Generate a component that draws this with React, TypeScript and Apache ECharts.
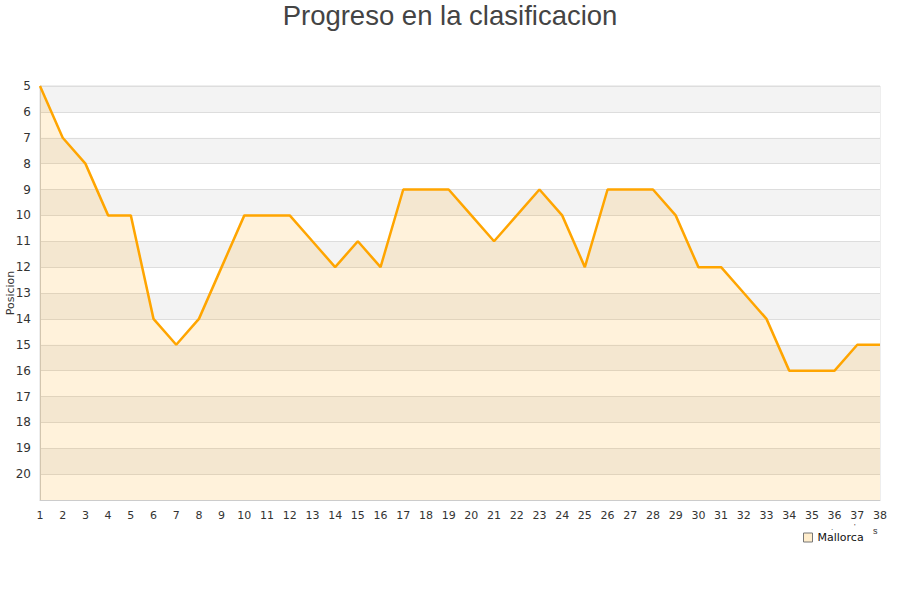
import React, { useEffect, useRef } from "react";
import * as echarts from "echarts";

const jornadas = Array.from({ length: 38 }, (_, i) => String(i + 1));
const posiciones = [5, 7, 8, 10, 10, 14, 15, 14, 12, 10, 10, 10, 11, 12, 11, 12, 9, 9, 9, 10, 11, 10, 9, 10, 12, 9, 9, 9, 10, 12, 12, 13, 14, 16, 16, 16, 15, 15];
const equipo = "Mallorca";
const titulo = "Progreso en la clasificacion";
const ejeY = "Posicion";

export default function App() {
  const ref = useRef<HTMLDivElement>(null);
  useEffect(() => {
    if (!ref.current) return;
    const chart = echarts.init(ref.current, null, { renderer: "svg" });
    chart.setOption({
      animation: false,
      textStyle: { fontFamily: "DejaVu Sans" },
      title: {
        text: titulo,
        left: "center",
        top: -4,
        textStyle: { fontFamily: "Liberation Sans", fontSize: 27.5, fontWeight: "normal", color: "#444" },
      },
      legend: {
        left: 798,
        top: 527,
        itemWidth: 9,
        itemHeight: 9,
        itemGap: 9,
        icon: "rect",
        textStyle: { fontSize: 11, color: "#111" },
        data: [{ name: equipo, itemStyle: { color: "rgba(255,165,0,0.2)", borderColor: "#777", borderWidth: 1 } }],
      },
      grid: {
        left: 40, right: 20, top: 86, bottom: 100,
        show: true, borderColor: "#ddd", borderWidth: 1,
        containLabel: false, outerBoundsMode: "none",
      },
      xAxis: {
        type: "category",
        data: jornadas,
        boundaryGap: false,
        axisLine: { show: true, lineStyle: { color: "#ccc" } },
        axisTick: { show: false },
        axisLabel: { color: "#333", fontSize: 11, margin: 10, interval: 0 },
        splitLine: { show: false },
      },
      yAxis: {
        type: "value",
        inverse: true,
        min: 5,
        max: 21,
        interval: 1,
        name: ejeY,
        nameLocation: "middle",
        nameGap: 24,
        nameMoveOverlap: false,
        nameRotate: 90,
        nameTextStyle: { fontSize: 11, color: "#333" },
        axisLine: { show: true, lineStyle: { color: "#ccc" } },
        axisTick: { show: false },
        axisLabel: {
          color: "#333",
          fontSize: 12,
          margin: 9,
          formatter: (v: number) => (v === 21 ? "" : String(v)),
        },
        splitLine: { show: true, lineStyle: { color: "#ddd" } },
        splitArea: { show: true, areaStyle: { color: ["#f3f3f3", "#ffffff"] } },
      },
      series: [
        {
          name: equipo,
          type: "line",
          data: posiciones,
          symbol: "none",
          lineStyle: { color: "#ffa500", width: 2.5 },
          itemStyle: { color: "#ffa500" },
          areaStyle: { color: "rgba(255,165,0,0.2)", origin: "end" },
        },
      ],
      graphic: [
        { type: "text", left: 873, top: 526, style: { text: "s", fontSize: 9, fill: "#333" } },
        { type: "text", left: 831, top: 523, style: { text: ".", fontSize: 8, fill: "#333" } },
        { type: "text", left: 854, top: 522, style: { text: "'", fontSize: 8, fill: "#333" } },
      ],
    });
    return () => chart.dispose();
  }, []);
  return <div ref={ref} style={{ width: 900, height: 600, position: "absolute", left: 0, top: 0 }} />;
}
